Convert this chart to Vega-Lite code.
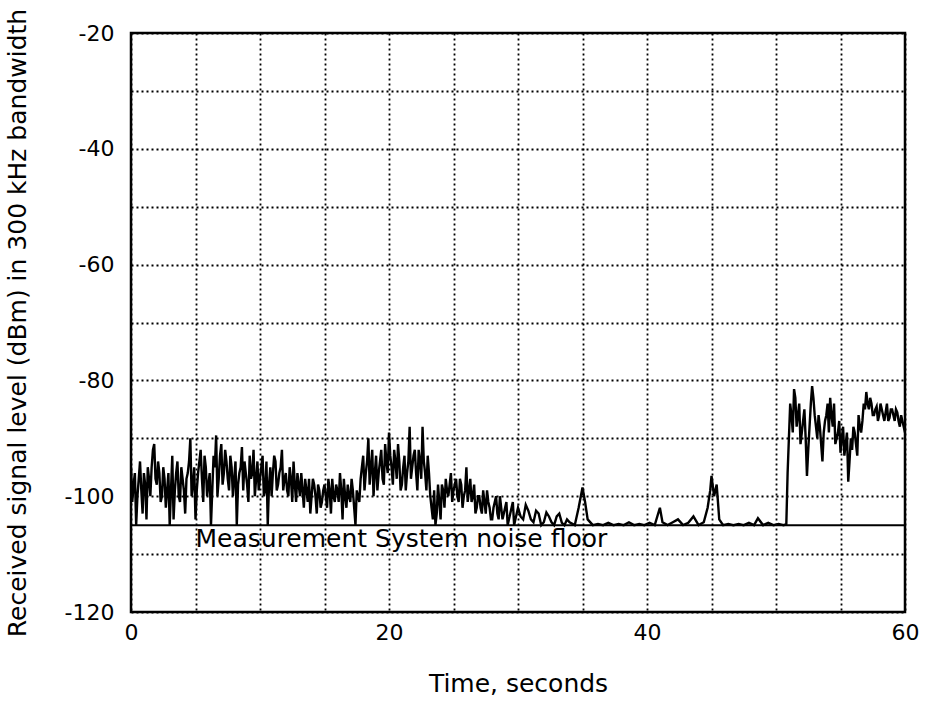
{
  "$schema": "https://vega.github.io/schema/vega-lite/v6.json",
  "width": 774,
  "height": 579,
  "autosize": {"type": "none"},
  "padding": {"left": 131, "top": 33, "right": 21, "bottom": 90},
  "background": "white",
  "config": {
    "view": {"stroke": "black", "strokeWidth": 2.5},
    "axis": {
      "labelFont": "DejaVu Sans", "labelFontSize": 22, "labelColor": "black",
      "titleFont": "DejaVu Sans", "titleFontSize": 25, "titleFontWeight": "normal", "titleColor": "black",
      "ticks": false, "domain": false, "grid": true,
      "gridColor": "black", "gridOpacity": 1, "gridWidth": 1.8, "gridDash": [2, 3],
      "labelOverlap": false, "labelFlush": false
    }
  },
  "datasets": {
    "signal": [
      {"t":0.0,"dbm":-95},{"t":0.2,"dbm":-98},{"t":0.4,"dbm":-105},{"t":0.6,"dbm":-97},{"t":0.8,"dbm":-99},
      {"t":1.0,"dbm":-96},{"t":1.2,"dbm":-104},{"t":1.4,"dbm":-97},{"t":1.6,"dbm":-95},{"t":1.8,"dbm":-91},
      {"t":2.0,"dbm":-98},{"t":2.2,"dbm":-96},{"t":2.4,"dbm":-100},{"t":2.6,"dbm":-97},{"t":2.8,"dbm":-99},
      {"t":3.0,"dbm":-105},{"t":3.2,"dbm":-93},{"t":3.4,"dbm":-99},{"t":3.6,"dbm":-94},{"t":3.8,"dbm":-101},
      {"t":4.0,"dbm":-97},{"t":4.2,"dbm":-103},{"t":4.4,"dbm":-96},{"t":4.6,"dbm":-90},{"t":4.8,"dbm":-98},
      {"t":5.0,"dbm":-104},{"t":5.2,"dbm":-96},{"t":5.4,"dbm":-92},{"t":5.6,"dbm":-101},{"t":5.8,"dbm":-95},
      {"t":6.0,"dbm":-98},{"t":6.2,"dbm":-105},{"t":6.4,"dbm":-93},{"t":6.6,"dbm":-89.5},{"t":6.8,"dbm":-97},
      {"t":7.0,"dbm":-91},{"t":7.2,"dbm":-96},{"t":7.4,"dbm":-94},{"t":7.6,"dbm":-99},{"t":7.8,"dbm":-95},
      {"t":8.0,"dbm":-97},{"t":8.2,"dbm":-105},{"t":8.4,"dbm":-96},{"t":8.6,"dbm":-91.5},{"t":8.8,"dbm":-94},
      {"t":9.0,"dbm":-98},{"t":9.2,"dbm":-93},{"t":9.4,"dbm":-96},{"t":9.6,"dbm":-100},{"t":9.8,"dbm":-94},
      {"t":10.0,"dbm":-97},{"t":10.2,"dbm":-93},{"t":10.4,"dbm":-99},{"t":10.6,"dbm":-105},{"t":10.8,"dbm":-95},
      {"t":11.0,"dbm":-96},{"t":11.2,"dbm":-94},{"t":11.4,"dbm":-98},{"t":11.6,"dbm":-95},{"t":11.8,"dbm":-99},
      {"t":12.0,"dbm":-96},{"t":12.2,"dbm":-100},{"t":12.4,"dbm":-97},{"t":12.6,"dbm":-94},{"t":12.8,"dbm":-101},
      {"t":13.0,"dbm":-98},{"t":13.2,"dbm":-96},{"t":13.4,"dbm":-102},{"t":13.6,"dbm":-99},{"t":13.8,"dbm":-97},
      {"t":14.0,"dbm":-100},{"t":14.2,"dbm":-98},{"t":14.4,"dbm":-103},{"t":14.6,"dbm":-99},{"t":14.8,"dbm":-101},
      {"t":15.0,"dbm":-98},{"t":15.2,"dbm":-102},{"t":15.4,"dbm":-99},{"t":15.6,"dbm":-97},{"t":15.8,"dbm":-101},
      {"t":16.0,"dbm":-99},{"t":16.2,"dbm":-96},{"t":16.4,"dbm":-104},{"t":16.6,"dbm":-100},{"t":16.8,"dbm":-98},
      {"t":17.0,"dbm":-101},{"t":17.2,"dbm":-99},{"t":17.4,"dbm":-105},{"t":17.6,"dbm":-100},{"t":17.8,"dbm":-97},
      {"t":18.0,"dbm":-93},{"t":18.2,"dbm":-96},{"t":18.4,"dbm":-90},{"t":18.6,"dbm":-95},{"t":18.8,"dbm":-100},
      {"t":19.0,"dbm":-93},{"t":19.2,"dbm":-96},{"t":19.4,"dbm":-92},{"t":19.6,"dbm":-98},{"t":19.8,"dbm":-94},
      {"t":20.0,"dbm":-89},{"t":20.2,"dbm":-95},{"t":20.4,"dbm":-92},{"t":20.6,"dbm":-97},{"t":20.8,"dbm":-94},
      {"t":21.0,"dbm":-98},{"t":21.2,"dbm":-93},{"t":21.4,"dbm":-96},{"t":21.6,"dbm":-88},{"t":21.8,"dbm":-95},
      {"t":22.0,"dbm":-92},{"t":22.2,"dbm":-99},{"t":22.4,"dbm":-94},{"t":22.6,"dbm":-88},{"t":22.8,"dbm":-96},
      {"t":23.0,"dbm":-93},{"t":23.2,"dbm":-100},{"t":23.4,"dbm":-104},{"t":23.6,"dbm":-105},{"t":23.8,"dbm":-98},
      {"t":24.0,"dbm":-104},{"t":24.2,"dbm":-99},{"t":24.4,"dbm":-97},{"t":24.6,"dbm":-100},{"t":24.8,"dbm":-96},
      {"t":25.0,"dbm":-99},{"t":25.2,"dbm":-97},{"t":25.4,"dbm":-101},{"t":25.6,"dbm":-98},{"t":25.8,"dbm":-100},
      {"t":26.0,"dbm":-95},{"t":26.2,"dbm":-99},{"t":26.4,"dbm":-101},{"t":26.6,"dbm":-98},{"t":26.8,"dbm":-102},
      {"t":27.0,"dbm":-100},{"t":27.2,"dbm":-103},{"t":27.4,"dbm":-101},{"t":27.6,"dbm":-99},{"t":27.8,"dbm":-102},
      {"t":28.0,"dbm":-104},{"t":28.2,"dbm":-101},{"t":28.4,"dbm":-103},{"t":28.6,"dbm":-100},{"t":28.8,"dbm":-104},
      {"t":29.0,"dbm":-102},{"t":29.2,"dbm":-105},{"t":29.4,"dbm":-103},{"t":29.6,"dbm":-101},{"t":29.8,"dbm":-104},
      {"t":0.1,"dbm":-101},{"t":0.3,"dbm":-96},{"t":0.5,"dbm":-100},{"t":0.7,"dbm":-94},{"t":0.9,"dbm":-103},
      {"t":1.1,"dbm":-98},{"t":1.3,"dbm":-95},{"t":1.5,"dbm":-100},{"t":1.7,"dbm":-92},{"t":1.9,"dbm":-97},
      {"t":2.1,"dbm":-94},{"t":2.3,"dbm":-101},{"t":2.5,"dbm":-95},{"t":2.7,"dbm":-102},{"t":2.9,"dbm":-96},
      {"t":3.1,"dbm":-99},{"t":3.3,"dbm":-104},{"t":3.5,"dbm":-96},{"t":3.7,"dbm":-100},{"t":3.9,"dbm":-95},
      {"t":4.1,"dbm":-99},{"t":4.3,"dbm":-97},{"t":4.5,"dbm":-94},{"t":4.7,"dbm":-100},{"t":4.9,"dbm":-95},
      {"t":5.1,"dbm":-99},{"t":5.3,"dbm":-94},{"t":5.5,"dbm":-97},{"t":5.7,"dbm":-93},{"t":5.9,"dbm":-100},
      {"t":6.1,"dbm":-96},{"t":6.3,"dbm":-99},{"t":6.5,"dbm":-95},{"t":6.7,"dbm":-100},{"t":6.9,"dbm":-93},
      {"t":7.1,"dbm":-98},{"t":7.3,"dbm":-92},{"t":7.5,"dbm":-97},{"t":7.7,"dbm":-93},{"t":7.9,"dbm":-100},
      {"t":8.1,"dbm":-94},{"t":8.3,"dbm":-98},{"t":8.5,"dbm":-95},{"t":8.7,"dbm":-99},{"t":8.9,"dbm":-96},
      {"t":9.1,"dbm":-101},{"t":9.3,"dbm":-97},{"t":9.5,"dbm":-92},{"t":9.7,"dbm":-97},{"t":9.9,"dbm":-99},
      {"t":10.1,"dbm":-95},{"t":10.3,"dbm":-100},{"t":10.5,"dbm":-94},{"t":10.7,"dbm":-98},{"t":10.9,"dbm":-100},
      {"t":11.1,"dbm":-93},{"t":11.3,"dbm":-99},{"t":11.5,"dbm":-96},{"t":11.7,"dbm":-92},{"t":11.9,"dbm":-97},
      {"t":12.1,"dbm":-99},{"t":12.3,"dbm":-95},{"t":12.5,"dbm":-101},{"t":12.7,"dbm":-98},{"t":12.9,"dbm":-96},
      {"t":13.1,"dbm":-100},{"t":13.3,"dbm":-99},{"t":13.5,"dbm":-97},{"t":13.7,"dbm":-101},{"t":13.9,"dbm":-103},
      {"t":14.1,"dbm":-97},{"t":14.3,"dbm":-100},{"t":14.5,"dbm":-98},{"t":14.7,"dbm":-102},{"t":14.9,"dbm":-99},
      {"t":15.1,"dbm":-100},{"t":15.3,"dbm":-97},{"t":15.5,"dbm":-103},{"t":15.7,"dbm":-100},{"t":15.9,"dbm":-98},
      {"t":16.1,"dbm":-101},{"t":16.3,"dbm":-99},{"t":16.5,"dbm":-97},{"t":16.7,"dbm":-102},{"t":16.9,"dbm":-100},
      {"t":17.1,"dbm":-97},{"t":17.3,"dbm":-102},{"t":17.5,"dbm":-99},{"t":17.7,"dbm":-101},{"t":17.9,"dbm":-95},
      {"t":18.1,"dbm":-99},{"t":18.3,"dbm":-94},{"t":18.5,"dbm":-98},{"t":18.7,"dbm":-92},{"t":18.9,"dbm":-96},
      {"t":19.1,"dbm":-99},{"t":19.3,"dbm":-94},{"t":19.5,"dbm":-97},{"t":19.7,"dbm":-91},{"t":19.9,"dbm":-96},
      {"t":20.1,"dbm":-93},{"t":20.3,"dbm":-98},{"t":20.5,"dbm":-94},{"t":20.7,"dbm":-91},{"t":20.9,"dbm":-99},
      {"t":21.1,"dbm":-95},{"t":21.3,"dbm":-99},{"t":21.5,"dbm":-94},{"t":21.7,"dbm":-97},{"t":21.9,"dbm":-93},
      {"t":22.1,"dbm":-96},{"t":22.3,"dbm":-92},{"t":22.5,"dbm":-97},{"t":22.7,"dbm":-94},{"t":22.9,"dbm":-99},
      {"t":23.1,"dbm":-96},{"t":23.3,"dbm":-102},{"t":23.5,"dbm":-99},{"t":23.7,"dbm":-103},{"t":23.9,"dbm":-101},
      {"t":24.1,"dbm":-98},{"t":24.3,"dbm":-102},{"t":24.5,"dbm":-99},{"t":24.7,"dbm":-98},{"t":24.9,"dbm":-101},
      {"t":25.1,"dbm":-98},{"t":25.3,"dbm":-100},{"t":25.5,"dbm":-97},{"t":25.7,"dbm":-102},{"t":25.9,"dbm":-99},
      {"t":26.1,"dbm":-101},{"t":26.3,"dbm":-97},{"t":26.5,"dbm":-100},{"t":26.7,"dbm":-103},{"t":26.9,"dbm":-100},
      {"t":27.1,"dbm":-102},{"t":27.3,"dbm":-99},{"t":27.5,"dbm":-103},{"t":27.7,"dbm":-101},{"t":27.9,"dbm":-104},
      {"t":28.1,"dbm":-102},{"t":28.3,"dbm":-100},{"t":28.5,"dbm":-104},{"t":28.7,"dbm":-102},{"t":28.9,"dbm":-103},
      {"t":29.1,"dbm":-101},{"t":29.3,"dbm":-104},{"t":29.5,"dbm":-102},{"t":29.7,"dbm":-105},{"t":29.9,"dbm":-103},
      {"t":30.0,"dbm":-102},{"t":30.2,"dbm":-103.5},{"t":30.4,"dbm":-104},{"t":30.6,"dbm":-101.5},{"t":30.8,"dbm":-102.5},
      {"t":31.0,"dbm":-104},{"t":31.2,"dbm":-104.5},{"t":31.4,"dbm":-102.5},{"t":31.6,"dbm":-103},{"t":31.8,"dbm":-105},
      {"t":32.0,"dbm":-104.5},{"t":32.2,"dbm":-102.8},{"t":32.4,"dbm":-103.5},{"t":32.6,"dbm":-104.5},{"t":32.8,"dbm":-105},
      {"t":33.0,"dbm":-103.5},{"t":33.2,"dbm":-103},{"t":33.4,"dbm":-104.6},{"t":33.6,"dbm":-105},{"t":33.8,"dbm":-104},
      {"t":34.0,"dbm":-104.5},{"t":34.4,"dbm":-105},{"t":34.7,"dbm":-102},{"t":35.0,"dbm":-98.5},{"t":35.2,"dbm":-101},
      {"t":35.4,"dbm":-104},{"t":35.8,"dbm":-105},{"t":36.2,"dbm":-104.8},{"t":36.6,"dbm":-105},{"t":37.0,"dbm":-104.6},
      {"t":37.4,"dbm":-105},{"t":37.8,"dbm":-104.8},{"t":38.2,"dbm":-105},{"t":38.6,"dbm":-104.5},{"t":39.0,"dbm":-105},
      {"t":39.4,"dbm":-104.8},{"t":39.8,"dbm":-105},{"t":40.2,"dbm":-104.6},{"t":40.6,"dbm":-105},{"t":41.0,"dbm":-102},
      {"t":41.2,"dbm":-104.5},{"t":41.6,"dbm":-105},{"t":42.0,"dbm":-104.5},{"t":42.4,"dbm":-104},{"t":42.8,"dbm":-105},
      {"t":43.2,"dbm":-104.6},{"t":43.6,"dbm":-103.5},{"t":44.0,"dbm":-105},{"t":44.4,"dbm":-104.5},{"t":44.7,"dbm":-102},
      {"t":44.9,"dbm":-99},{"t":45.0,"dbm":-96.5},{"t":45.2,"dbm":-100},{"t":45.4,"dbm":-98},{"t":45.6,"dbm":-104},
      {"t":45.9,"dbm":-105},{"t":46.3,"dbm":-104.8},{"t":46.7,"dbm":-105},{"t":47.1,"dbm":-104.8},{"t":47.5,"dbm":-105},
      {"t":47.9,"dbm":-104.6},{"t":48.3,"dbm":-105},{"t":48.6,"dbm":-103.8},{"t":49.0,"dbm":-105},{"t":49.4,"dbm":-104.6},
      {"t":49.8,"dbm":-105},{"t":50.2,"dbm":-104.8},{"t":50.6,"dbm":-105},{"t":50.8,"dbm":-104.8},{"t":50.9,"dbm":-96},
      {"t":51.0,"dbm":-90},{"t":51.2,"dbm":-86},{"t":51.4,"dbm":-81.5},{"t":51.6,"dbm":-88},{"t":51.8,"dbm":-84},
      {"t":52.0,"dbm":-89},{"t":52.2,"dbm":-85},{"t":52.4,"dbm":-96.5},{"t":52.6,"dbm":-88},{"t":52.8,"dbm":-81},
      {"t":53.0,"dbm":-86},{"t":53.2,"dbm":-90},{"t":53.4,"dbm":-88},{"t":53.6,"dbm":-94},{"t":53.8,"dbm":-87},
      {"t":54.0,"dbm":-84},{"t":54.2,"dbm":-83},{"t":54.4,"dbm":-88},{"t":54.6,"dbm":-91},{"t":54.8,"dbm":-89},
      {"t":55.0,"dbm":-92.5},{"t":55.2,"dbm":-88},{"t":55.4,"dbm":-91},{"t":55.6,"dbm":-97.5},{"t":55.8,"dbm":-90},
      {"t":56.0,"dbm":-88},{"t":56.2,"dbm":-91},{"t":56.4,"dbm":-86},{"t":56.6,"dbm":-89},{"t":56.8,"dbm":-84},
      {"t":57.0,"dbm":-82},{"t":57.2,"dbm":-85},{"t":57.4,"dbm":-84},{"t":57.6,"dbm":-86},{"t":57.8,"dbm":-84.5},
      {"t":58.0,"dbm":-86},{"t":58.2,"dbm":-85},{"t":58.4,"dbm":-87},{"t":58.6,"dbm":-84},{"t":58.8,"dbm":-86.5},
      {"t":59.0,"dbm":-85},{"t":59.2,"dbm":-87},{"t":59.4,"dbm":-85.5},{"t":59.6,"dbm":-88},{"t":59.8,"dbm":-87},
      {"t":60.0,"dbm":-89},
      {"t":51.1,"dbm":-84},{"t":51.3,"dbm":-89},{"t":51.5,"dbm":-83},{"t":51.7,"dbm":-86},{"t":51.9,"dbm":-91},
      {"t":52.1,"dbm":-87},{"t":52.3,"dbm":-90},{"t":52.5,"dbm":-92},{"t":52.7,"dbm":-84},{"t":52.9,"dbm":-83},
      {"t":53.1,"dbm":-88},{"t":53.3,"dbm":-86},{"t":53.5,"dbm":-91},{"t":53.7,"dbm":-89},{"t":53.9,"dbm":-86},
      {"t":54.1,"dbm":-89},{"t":54.3,"dbm":-86},{"t":54.5,"dbm":-84},{"t":54.7,"dbm":-90},{"t":54.9,"dbm":-87},
      {"t":55.1,"dbm":-90},{"t":55.3,"dbm":-93},{"t":55.5,"dbm":-89},{"t":55.7,"dbm":-94},{"t":55.9,"dbm":-92},
      {"t":56.1,"dbm":-89},{"t":56.3,"dbm":-93},{"t":56.5,"dbm":-88},{"t":56.7,"dbm":-87},{"t":56.9,"dbm":-85},
      {"t":57.1,"dbm":-84},{"t":57.3,"dbm":-83},{"t":57.5,"dbm":-86},{"t":57.7,"dbm":-85},{"t":57.9,"dbm":-87},
      {"t":58.1,"dbm":-84},{"t":58.3,"dbm":-86},{"t":58.5,"dbm":-85.5},{"t":58.7,"dbm":-87},{"t":58.9,"dbm":-85},
      {"t":59.1,"dbm":-86},{"t":59.3,"dbm":-85},{"t":59.5,"dbm":-87},{"t":59.7,"dbm":-86},{"t":59.9,"dbm":-88}
    ],
    "floor": [{"level": -105, "label": "Measurement System noise floor", "tx": 5.0, "ty": -108.8}]
  },
  "layer": [
    {
      "data": {"name": "signal"},
      "mark": {"type": "line", "color": "black", "strokeWidth": 2.4, "clip": true},
      "encoding": {
        "x": {"field": "t", "type": "quantitative",
              "scale": {"domain": [0, 60], "nice": false, "zero": false},
              "axis": {"values": [0,5,10,15,20,25,30,35,40,45,50,55,60],
                       "labelExpr": "datum.value % 20 == 0 ? '' + datum.value : ''",
                       "labelPadding": 10, "title": "Time, seconds", "titlePadding": 28}},
        "y": {"field": "dbm", "type": "quantitative",
              "scale": {"domain": [-120, -20], "nice": false, "zero": false},
              "axis": {"values": [-120,-110,-100,-90,-80,-70,-60,-50,-40,-30,-20],
                       "labelExpr": "datum.value % 20 == 0 ? '' + datum.value : ''",
                       "labelPadding": 17,
                       "title": "Received signal level (dBm) in 300 kHz bandwidth", "titlePadding": 34}}
      }
    },
    {
      "mark": {"type": "rect", "color": "white"},
      "encoding": {
        "x": {"datum": 4.6, "type": "quantitative"},
        "x2": {"datum": 39.4},
        "y": {"datum": -105.4, "type": "quantitative"},
        "y2": {"datum": -110.3}
      }
    },
    {
      "data": {"name": "floor"},
      "mark": {"type": "rule", "color": "black", "strokeWidth": 2},
      "encoding": {"y": {"field": "level", "type": "quantitative"}}
    },
    {
      "data": {"name": "floor"},
      "mark": {"type": "text", "align": "left", "baseline": "alphabetic", "font": "DejaVu Sans", "fontSize": 25, "color": "black"},
      "encoding": {
        "x": {"field": "tx", "type": "quantitative"},
        "y": {"field": "ty", "type": "quantitative"},
        "text": {"field": "label"}
      }
    }
  ]
}
